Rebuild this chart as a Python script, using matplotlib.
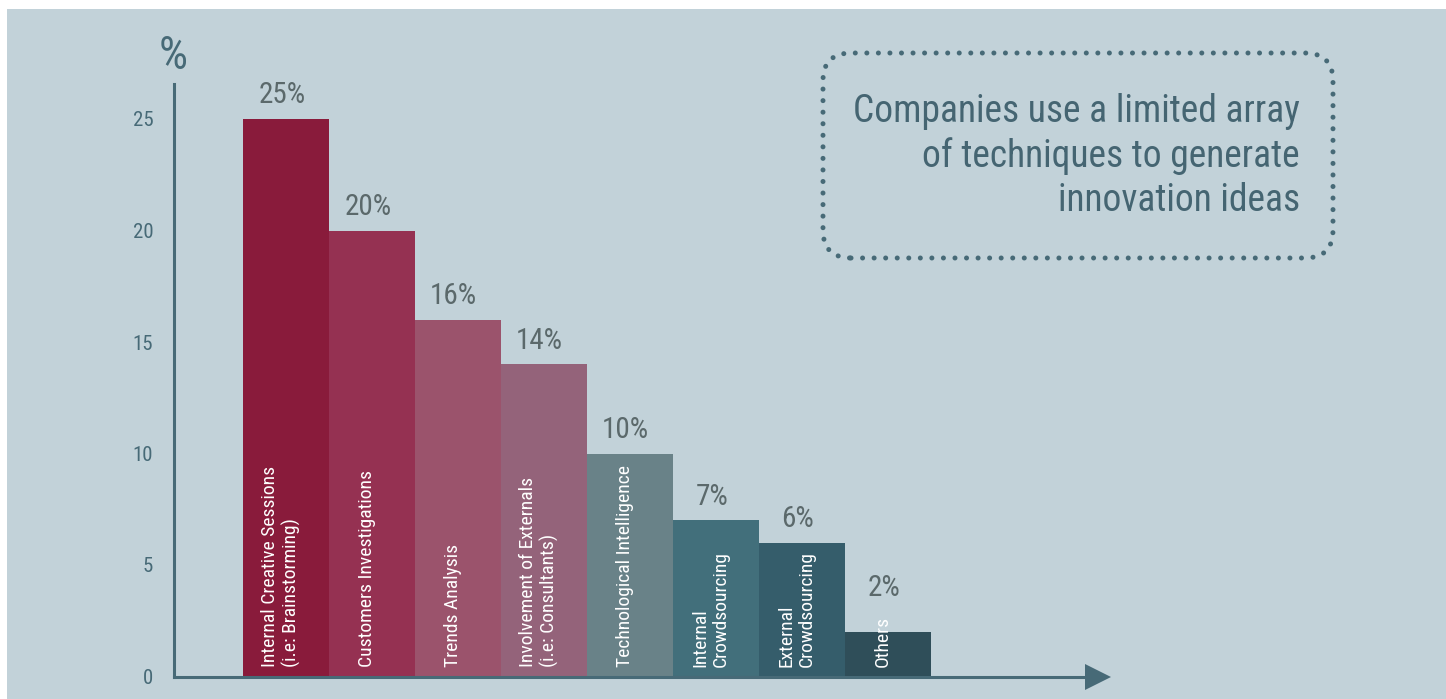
import matplotlib
matplotlib.use("Agg")
import matplotlib.pyplot as plt
from matplotlib import font_manager
from matplotlib.patches import FancyBboxPatch, Rectangle

# Data
categories = [
    "Internal Creative Sessions\n(i.e: Brainstorming)",
    "Customers Investigations",
    "Trends Analysis",
    "Involvement of Externals\n(i.e: Consultants)",
    "Technological Intelligence",
    "Internal\nCrowdsourcing",
    "External\nCrowdsourcing",
    "Others",
]
values = [25, 20, 16, 14, 10, 7, 6, 2]
value_labels = ["25%", "20%", "16%", "14%", "10%", "7%", "6%", "2%"]
y_ticks = [0, 5, 10, 15, 20, 25]
note_lines = [
    "Companies use a limited array",
    "of techniques to generate",
    "innovation ideas",
]

# Style
bar_colors = ["#891b3b", "#953152", "#9b536c", "#94637a",
              "#698288", "#426f7b", "#355d6b", "#2f4e59"]
panel_bg = "#c2d2d9"
axis_color = "#476a77"
value_color = "#5b696b"
note_color = "#456572"

installed = {f.name for f in font_manager.fontManager.ttflist}
narrow = next((n for n in ["Liberation Sans Narrow", "Roboto Condensed",
                           "Open Sans Condensed"] if n in installed), None)
if narrow:
    FONT = [narrow, "DejaVu Sans"]
    fs = dict(tick=15, value=21, bar=14, note=27, unit=33)
else:
    FONT = ["Roboto", "DejaVu Sans"]
    fs = dict(tick=14, value=18, bar=12, note=22.5, unit=30)

W, H, DPI = 1446, 699, 100
fig = plt.figure(figsize=(W / DPI, H / DPI), dpi=DPI, facecolor="white")

# background panel with a thin white margin on top and left
fig.patches.append(Rectangle((7 / W, 0), 1 - 7 / W, 1 - 9 / H,
                             transform=fig.transFigure, facecolor=panel_bg,
                             edgecolor="none", zorder=-10))

px_per_unit = 22.3
base_px, top_px = 676.5, 84
left_px, right_px = 174, 1098
ax = fig.add_axes([left_px / W, (H - base_px) / H,
                   (right_px - left_px) / W, (base_px - top_px) / H])
ax.set_facecolor("none")

x = list(range(len(values)))
ax.bar(x, values, width=1.0, color=bar_colors, linewidth=0, zorder=1)

bar_px = 86
first_left_px = 243
ax.set_xlim(-0.5 - (first_left_px - left_px) / bar_px,
            -0.5 + (right_px - first_left_px) / bar_px)
ax.set_ylim(0, (base_px - top_px) / px_per_unit)

for s in ["top", "right"]:
    ax.spines[s].set_visible(False)
for s in ["left", "bottom"]:
    ax.spines[s].set_color(axis_color)
    ax.spines[s].set_linewidth(2.2)
    ax.spines[s].set_zorder(3)
ax.spines["left"].set_capstyle("projecting")

# arrow head at the end of the x axis
ax.plot([1.0], [0], marker=">", markersize=19, color=axis_color,
        transform=ax.get_yaxis_transform(), clip_on=False, zorder=4,
        markeredgewidth=0)

ax.set_xticks([])
ax.set_yticks(y_ticks)
ax.set_yticklabels([str(t) for t in y_ticks], fontsize=fs["tick"],
                   color=axis_color, family=FONT)
ax.tick_params(axis="y", length=0, pad=15)

# category names inside bars
text_base = 0.42
for xi, cat in zip(x, categories):
    ax.text(xi - 0.06, text_base, cat, rotation=90, ha="center", va="bottom",
            multialignment="left", fontsize=fs["bar"], color="white",
            family=FONT, linespacing=1.15, zorder=2)

# value labels above bars; on very short bars they sit above the bar's
# rotated name so the two do not collide
min_label_base = 2.9
for xi, v, lab in zip(x, values, value_labels):
    ax.annotate(lab, (xi - 0.05, max(v, min_label_base)), xytext=(0, 7),
                textcoords="offset points", ha="center", va="bottom",
                fontsize=fs["value"], color=value_color, family=FONT)

# axis unit label
fig.text(173 / W, 1 - 56 / H, "%", ha="center", va="center",
         fontsize=fs["unit"], color=axis_color, family=FONT)

# dotted note box
box = FancyBboxPatch((8.23, 4.41), 5.10, 2.05,
                     boxstyle="round,pad=0,rounding_size=0.28",
                     transform=fig.dpi_scale_trans, facecolor="none",
                     edgecolor=axis_color, linewidth=3.6,
                     linestyle=(0, (0.01, 2.3)), capstyle="round")
fig.patches.append(box)
fig.text(13.00, 5.43, "\n".join(note_lines), ha="right", va="center",
         transform=fig.dpi_scale_trans, fontsize=fs["note"], color=note_color,
         family=FONT, linespacing=1.25)

fig.savefig("out.png", dpi=DPI, facecolor="white")
